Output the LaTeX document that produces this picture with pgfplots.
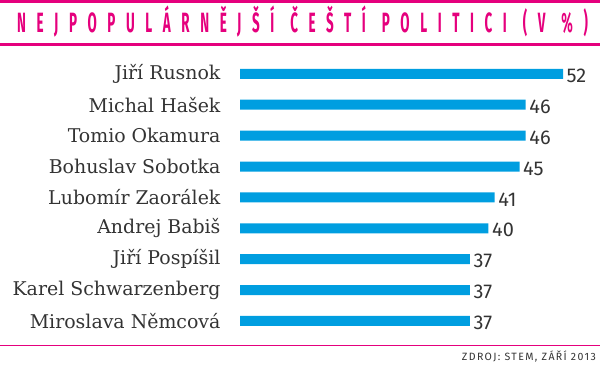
\documentclass[border=0pt]{standalone}
\usepackage{pgfplots}
\pgfplotsset{compat=1.18}
\usepackage{fontspec}
\setmainfont{DejaVu Serif}
\newfontfamily\numfont{Fira Sans}
\newfontfamily\titlefont[FakeStretch=0.48,LetterSpace=38]{Fira Sans}
\newfontfamily\srcfont[LetterSpace=13]{Fira Sans}
\definecolor{pinkc}{HTML}{E5007D}
\definecolor{barc}{HTML}{009EE0}
\definecolor{txt}{HTML}{333333}
\begin{document}
\begin{tikzpicture}[x=1bp,y=-1bp]
\path[use as bounding box] (0,0) rectangle (600,367);
\fill[pinkc] (0,0) rectangle (600,3);
\fill[pinkc] (0,42.7) rectangle (600,45.7);
\fill[pinkc] (0,344.5) rectangle (600,345.5);
\node[anchor=base west, text=pinkc, inner sep=0, font=\titlefont\bfseries\fontsize{28}{28}\selectfont] at (17,32.9) {NEJPOPULÁRNĚJŠÍ\hspace{16bp}ČEŠTÍ\hspace{16bp}POLITICI\hspace{16bp}(V\hspace{16bp}\%)};
\node[anchor=base east, text=txt, inner sep=0, font=\srcfont\fontsize{10.6}{10.6}\selectfont] at (596,360) {ZDROJ: STEM, ZÁŘÍ 2013};
\begin{axis}[at={(240bp,-336.4bp)}, anchor=south west,
  xbar, scale only axis, width=323bp, height=278bp,
  xmin=0, xmax=52, ymin=0.5, ymax=9.5, y dir=reverse,
  axis line style={draw=none}, tick style={draw=none}, major tick length=0pt,
  xtick=\empty, ytick={1,...,9},
  yticklabels={Jiří Rusnok, Michal Hašek, Tomio Okamura, Bohuslav Sobotka, Lubomír Zaorálek, Andrej Babiš, Jiří Pospíšil, Karel Schwarzenberg, Miroslava Němcová},
  yticklabel style={font=\fontsize{19}{19}\selectfont, text=txt, xshift=-16bp},
  bar width=10bp, clip=false,
  nodes near coords, point meta=x,
  /pgf/number format/assume math mode=true,
  nodes near coords style={font=\numfont\fontsize{20}{20}\selectfont, text=txt, anchor=west, inner sep=3.5bp, yshift=-2bp},
]
\addplot[fill=barc, draw=none] coordinates {(52,1) (46,2) (46,3) (45,4) (41,5) (40,6) (37,7) (37,8) (37,9)};
\end{axis}
\end{tikzpicture}
\end{document}
